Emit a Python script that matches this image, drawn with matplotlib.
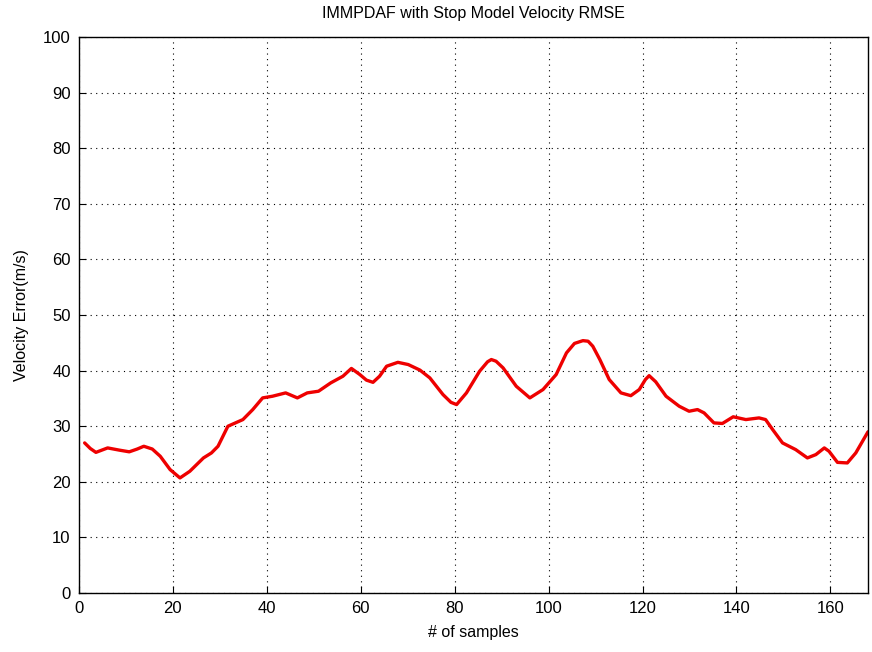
import numpy as np
import matplotlib
matplotlib.use('Agg')
import matplotlib.pyplot as plt

# samples
samples = [1.2, 2.4, 3.6, 6.1, 8.6, 10.7, 12.4, 13.8, 15.6, 17.3, 19.4, 21.5, 23.6,
           26.5, 28.2, 29.6, 31.7, 34.9, 37.0, 39.1, 41.2, 44.0, 46.5, 48.6, 51.0,
           53.6, 56.2, 58.0, 59.8, 61.2, 62.6, 64.0, 65.5, 67.9, 70.1, 72.6, 74.7,
           77.5, 79.2, 80.4, 82.5, 85.3, 87.0, 87.8, 88.8, 90.3, 93.1, 96.0, 98.8,
           101.6, 103.8, 105.5, 107.3, 108.4, 109.4, 110.9, 112.9, 115.4, 117.5,
           119.3, 120.6, 121.4, 122.8, 125.0, 127.8, 129.9, 131.7, 133.1, 135.2,
           137.0, 139.3, 142.0, 144.8, 146.2, 147.7, 149.8, 152.6, 155.1, 156.9,
           158.7, 159.7, 161.5, 163.6, 165.4, 168.0]
vel_rmse = [27.0, 26.0, 25.3, 26.1, 25.7, 25.4, 25.9, 26.4, 25.9, 24.6, 22.2, 20.7, 21.9,
            24.3, 25.2, 26.4, 30.0, 31.2, 33.0, 35.1, 35.4, 36.0, 35.1, 36.0, 36.3,
            37.8, 39.0, 40.4, 39.3, 38.3, 37.9, 39.0, 40.8, 41.5, 41.1, 40.1, 38.7,
            35.7, 34.3, 33.9, 36.0, 39.9, 41.6, 42.0, 41.7, 40.5, 37.2, 35.1, 36.6,
            39.3, 43.2, 44.9, 45.4, 45.3, 44.4, 42.0, 38.4, 36.0, 35.5,
            36.6, 38.4, 39.1, 38.0, 35.4, 33.6, 32.7, 33.0, 32.4, 30.6,
            30.5, 31.7, 31.2, 31.5, 31.2, 29.4, 27.0, 25.8, 24.3, 24.9,
            26.1, 25.5, 23.5, 23.4, 25.2, 29.0]

plt.rcParams['font.family'] = ['Liberation Sans', 'DejaVu Sans']

fig = plt.figure(figsize=(8.72, 6.52), dpi=100)
ax = fig.add_axes([0.0906, 0.0905, 0.9048, 0.8525])

ax.plot(samples, vel_rmse, color='#ee0000', linewidth=2.4, solid_capstyle='round',
        solid_joinstyle='round')

ax.set_xlim(0, 168)
ax.set_ylim(0, 100)
ax.set_xticks(np.arange(0, 161, 20))
ax.set_yticks(np.arange(0, 101, 10))
ax.grid(True, linestyle=(0, (1, 4)), color='black', linewidth=0.8)
ax.tick_params(direction='in', length=5, labelsize=12, pad=6, top=False, right=False)
for s in ax.spines.values():
    s.set_linewidth(1.0)

ax.set_xlabel('# of samples', fontsize=11.5, labelpad=6)
ax.set_ylabel('Velocity Error(m/s)', fontsize=11.5, labelpad=10)
ax.set_title('IMMPDAF with Stop Model Velocity RMSE', fontsize=11.5, pad=14)

plt.savefig('out.png', dpi=100)
plt.close()
